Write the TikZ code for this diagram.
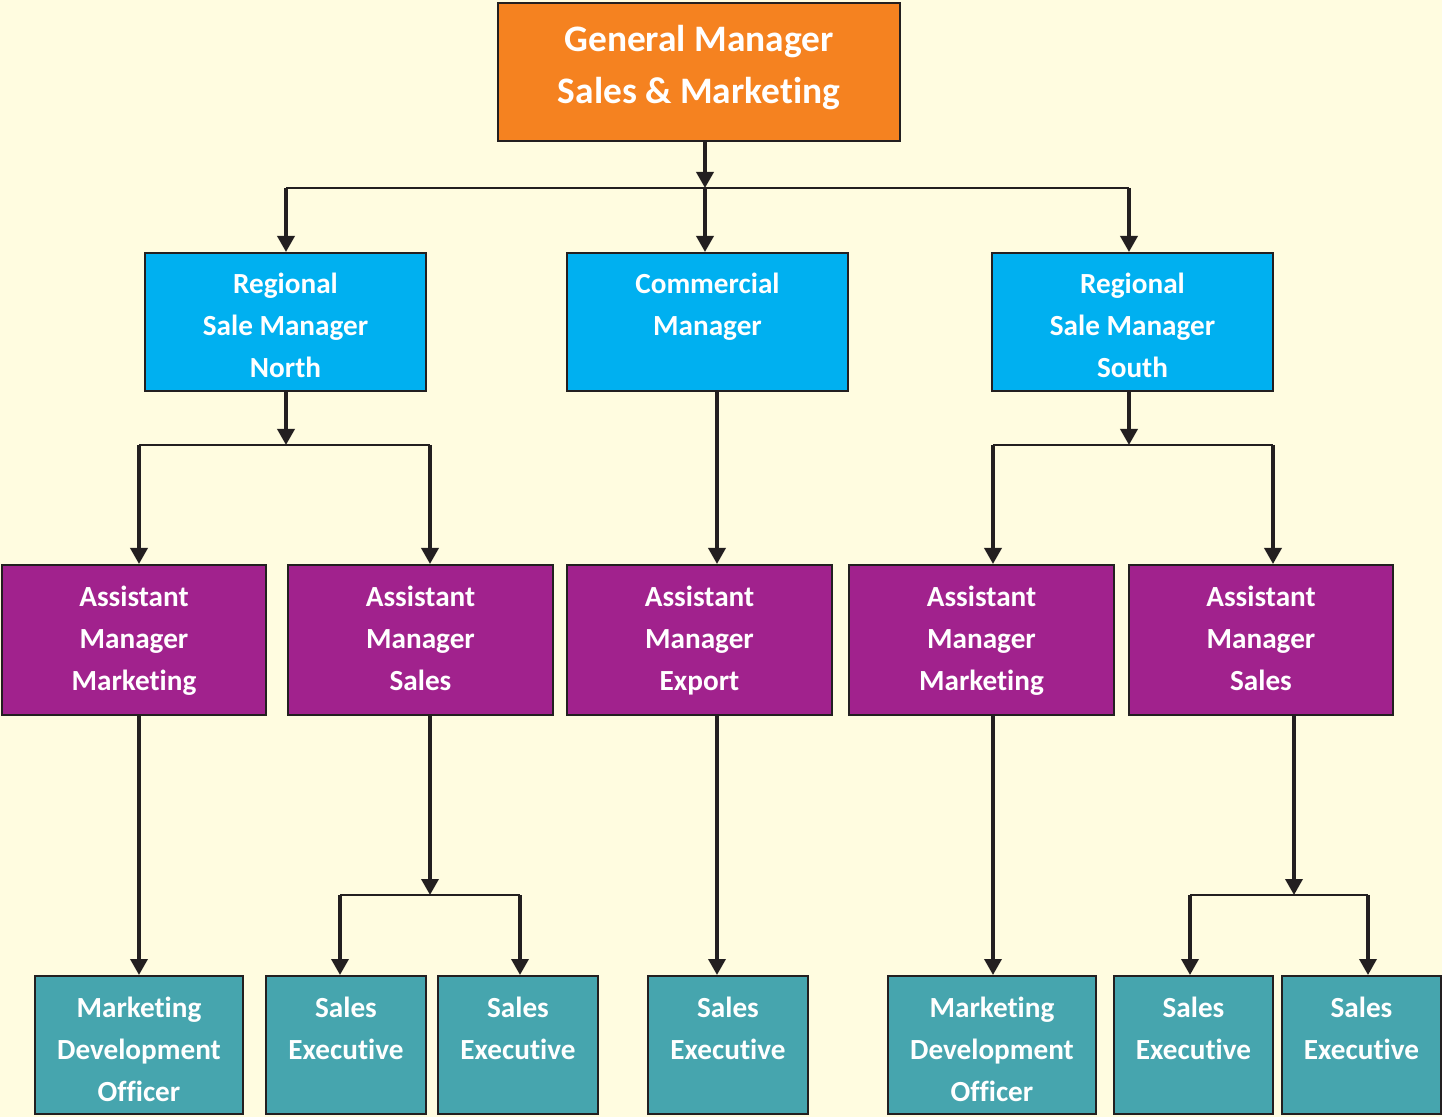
\documentclass[tikz,border=0pt]{standalone}
\usepackage{fontspec}
\setmainfont{Carlito}[Ligatures={NoCommon}]
\usetikzlibrary{arrows.meta}
\definecolor{bg}{HTML}{FFFCE0}
\definecolor{cgm}{HTML}{F58220}
\definecolor{cblue}{HTML}{00B0F0}
\definecolor{cpur}{HTML}{A1228D}
\definecolor{cteal}{HTML}{46A5AE}
\definecolor{edge}{HTML}{231F20}
\newcommand{\tl}[1]{\strut#1}
\newcommand{\bpad}{\strut\\[-16pt]}
\newcommand{\tpad}{\strut\\[-15pt]}
\tikzset{
  box/.style={draw=edge, line width=1pt, text=white, align=center, inner sep=0pt,
    font=\bfseries\fontsize{14.6}{21}\selectfont},
  gmbox/.style={box, fill=cgm, minimum width=201pt, minimum height=69pt,
    font=\bfseries\fontsize{18.7}{26}\selectfont},
  bluebox/.style={box, fill=cblue, minimum width=140.5pt, minimum height=69pt},
  purbox/.style={box, fill=cpur, minimum height=75pt},
  tealbox/.style={box, fill=cteal, minimum height=68pt},
  arr/.style={draw=edge, line width=1.75pt, -{Triangle[width=8.5pt,length=8pt]}},
  hline/.style={draw=edge, line width=1.2pt}
}
\begin{document}
\begin{tikzpicture}[x=0.5pt,y=-0.5pt]
\fill[bg] (0,0) rectangle (1442,1117);
\useasboundingbox (0,0) rectangle (1442,1117);
% top
\node[gmbox] (gm) at (699,72) {\tl{General Manager}\\\tl{Sales \& Marketing}\\[-21pt]\strut};
% level 2
\node[bluebox] (rn) at (285.5,322) {\bpad\tl{Regional}\\\tl{Sale Manager}\\\tl{North}};
\node[bluebox] (cm) at (707.5,322) {\bpad\tl{Commercial}\\\tl{Manager}\\\strut};
\node[bluebox] (rs) at (1132.5,322) {\bpad\tl{Regional}\\\tl{Sale Manager}\\\tl{South}};
% level 3
\node[purbox, minimum width=132pt] (a1) at (134,640) {\tl{Assistant}\\\tl{Manager}\\\tl{Marketing}};
\node[purbox, minimum width=132.5pt] (a2) at (420.5,640) {\tl{Assistant}\\\tl{Manager}\\\tl{Sales}};
\node[purbox, minimum width=132.5pt] (a3) at (699.5,640) {\tl{Assistant}\\\tl{Manager}\\\tl{Export}};
\node[purbox, minimum width=132.5pt] (a4) at (981.5,640) {\tl{Assistant}\\\tl{Manager}\\\tl{Marketing}};
\node[purbox, minimum width=132pt] (a5) at (1261,640) {\tl{Assistant}\\\tl{Manager}\\\tl{Sales}};
% level 4
\node[tealbox, minimum width=104pt] (t1) at (139,1045) {\tpad\tl{Marketing}\\\tl{Development}\\\tl{Officer}};
\node[tealbox, minimum width=80pt] (t2) at (346,1045) {\tpad\tl{Sales}\\\tl{Executive}\\\strut};
\node[tealbox, minimum width=80pt] (t3) at (518,1045) {\tpad\tl{Sales}\\\tl{Executive}\\\strut};
\node[tealbox, minimum width=80pt] (t4) at (728,1045) {\tpad\tl{Sales}\\\tl{Executive}\\\strut};
\node[tealbox, minimum width=104pt] (t5) at (992,1045) {\tpad\tl{Marketing}\\\tl{Development}\\\tl{Officer}};
\node[tealbox, minimum width=79.5pt] (t6) at (1193.5,1045) {\tpad\tl{Sales}\\\tl{Executive}\\\strut};
\node[tealbox, minimum width=79.5pt] (t7) at (1361.5,1045) {\tpad\tl{Sales}\\\tl{Executive}\\\strut};
% junction coordinates
\coordinate (j0) at (705,188);
\coordinate (j0L) at (286,188);
\coordinate (j0R) at (1129,188);
\coordinate (j1) at (286,445);
\coordinate (j1L) at (139,445);
\coordinate (j1R) at (430,445);
\coordinate (c1) at (717,478);
\coordinate (j2) at (1129,445);
\coordinate (j2L) at (993,445);
\coordinate (j2R) at (1273,445);
\coordinate (k1) at (139,846);
\coordinate (j3) at (430,895);
\coordinate (j3L) at (340,895);
\coordinate (j3R) at (520,895);
\coordinate (k3) at (717,846);
\coordinate (k4) at (993,846);
\coordinate (j4) at (1294,895);
\coordinate (j4L) at (1190,895);
\coordinate (j4R) at (1368,895);
% GM connectors
\draw[arr] (gm.south -| j0) -- (j0);
\draw[hline] (j0L) -- (j0R);
\draw[arr] (j0L) -- (j0L |- rn.north);
\draw[arr] (j0) -- (j0 |- cm.north);
\draw[arr] (j0R) -- (j0R |- rs.north);
% North
\draw[arr] (rn.south -| j1) -- (j1);
\draw[hline] (j1L) -- (j1R);
\draw[arr] (j1L) -- (j1L |- a1.north);
\draw[arr] (j1R) -- (j1R |- a2.north);
% Commercial
\draw[arr] (cm.south -| c1) -- (c1 |- a3.north);
% South
\draw[arr] (rs.south -| j2) -- (j2);
\draw[hline] (j2L) -- (j2R);
\draw[arr] (j2L) -- (j2L |- a4.north);
\draw[arr] (j2R) -- (j2R |- a5.north);
% level 3 to 4
\draw[arr] (a1.south -| k1) -- (k1 |- t1.north);
\draw[arr] (a2.south -| j3) -- (j3);
\draw[hline] (j3L) -- (j3R);
\draw[arr] (j3L) -- (j3L |- t2.north);
\draw[arr] (j3R) -- (j3R |- t3.north);
\draw[arr] (a3.south -| k3) -- (k3 |- t4.north);
\draw[arr] (a4.south -| k4) -- (k4 |- t5.north);
\draw[arr] (a5.south -| j4) -- (j4);
\draw[hline] (j4L) -- (j4R);
\draw[arr] (j4L) -- (j4L |- t6.north);
\draw[arr] (j4R) -- (j4R |- t7.north);
\end{tikzpicture}
\end{document}
